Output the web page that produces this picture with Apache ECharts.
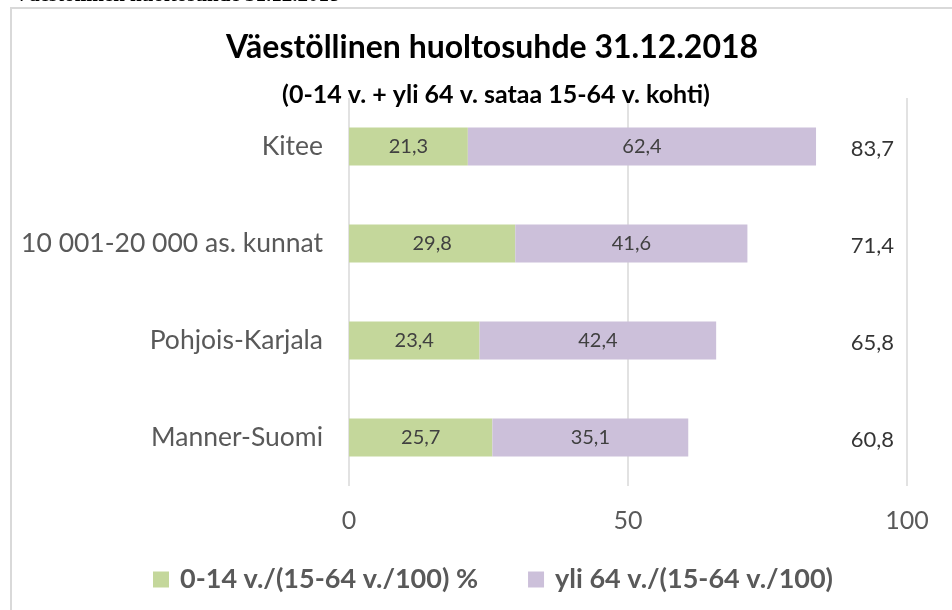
<!DOCTYPE html>
<html><head><meta charset="utf-8">
<script src="https://cdn.jsdelivr.net/npm/echarts@6/dist/echarts.min.js"></script>
<style>html,body{margin:0;padding:0;background:#fff}#c{width:952px;height:610px}</style>
</head><body><div id="c"></div>
<script>
const categories = ['Kitee', '10 001-20 000 as. kunnat', 'Pohjois-Karjala', 'Manner-Suomi'];
const youth = [21.3, 29.8, 23.4, 25.7];
const elderly = [62.4, 41.6, 42.4, 35.1];
const totals = [83.7, 71.4, 65.8, 60.8];
const seriesNames = ['0-14 v./(15-64 v./100) %', 'yli 64 v./(15-64 v./100)'];
const xTicks = [0, 50, 100];
const fmt = v => String(v).replace('.', ',');
const FONT = 'Lato';
const chart = echarts.init(document.getElementById('c'));
chart.setOption({
  animation: false,
  textStyle: { fontFamily: FONT },
  title: [
    { text: 'Väestöllinen huoltosuhde 31.12.2018', left: 487, textAlign: 'center', top: 27,
      textStyle: { fontFamily: FONT, fontSize: 32, fontWeight: 'bold', color: '#000' } },
    { text: '(0-14 v. + yli 64 v. sataa 15-64 v. kohti)', left: 491, textAlign: 'center', top: 77,
      textStyle: { fontFamily: FONT, fontSize: 25, fontWeight: 'bold', color: '#000' } }
  ],
  graphic: [
    { type: 'rect', shape: { x: 11, y: 8, width: 1000, height: 700 }, style: { fill: 'none', stroke: '#d9d9d9', lineWidth: 2 }, silent: true },
    { type: 'text', x: 14, y: 6, style: { text: 'Väestöllinen huoltosuhde 31.12.2018', font: 'bold 21px "Liberation Serif"', fill: '#000', verticalAlign: 'bottom' }, silent: true }
  ],
  legend: {
    bottom: 12, left: 148, itemGap: 50, itemWidth: 16, itemHeight: 16, icon: 'rect',
    textStyle: { fontFamily: FONT, fontSize: 27, fontWeight: 'bold', color: '#595959', padding: [0, 0, 0, 6] },
    data: seriesNames
  },
  grid: { left: 349, right: 45, top: 98, height: 388 },
  xAxis: {
    type: 'value', min: 0, max: 100, interval: 50,
    axisLine: { show: false }, axisTick: { show: false },
    splitLine: { lineStyle: { color: '#d9d9d9', width: 1.5 } },
    axisLabel: { fontFamily: FONT, fontSize: 25, color: '#595959', margin: 22,
      formatter: v => xTicks.includes(v) ? String(v) : '' }
  },
  yAxis: {
    type: 'category', inverse: true, data: categories,
    axisLine: { show: false }, axisTick: { show: false },
    axisLabel: { fontFamily: FONT, fontSize: 26.5, color: '#595959', margin: 26 }
  },
  series: [
    { name: seriesNames[0], type: 'bar', stack: 't', data: youth, barWidth: '39%',
      itemStyle: { color: '#c4d79b' },
      label: { show: true, position: 'inside', fontFamily: FONT, fontSize: 20, color: '#404040', formatter: p => fmt(p.value) } },
    { name: seriesNames[1], type: 'bar', stack: 't', data: elderly, barWidth: '39%',
      itemStyle: { color: '#ccc0da' },
      label: { show: true, position: 'inside', fontFamily: FONT, fontSize: 20, color: '#404040', formatter: p => fmt(p.value) } },
    { name: 'Yhteensä', type: 'scatter', symbolSize: 10, silent: true,
      itemStyle: { color: 'rgba(0,0,0,0)' },
      data: totals.map((t, i) => [93.8, categories[i], t]),
      label: { show: true, position: 'inside', fontFamily: FONT, fontSize: 22, color: '#000', offset: [0, 2], formatter: p => fmt(p.value[2]) } }
  ]
});
</script></body></html>
